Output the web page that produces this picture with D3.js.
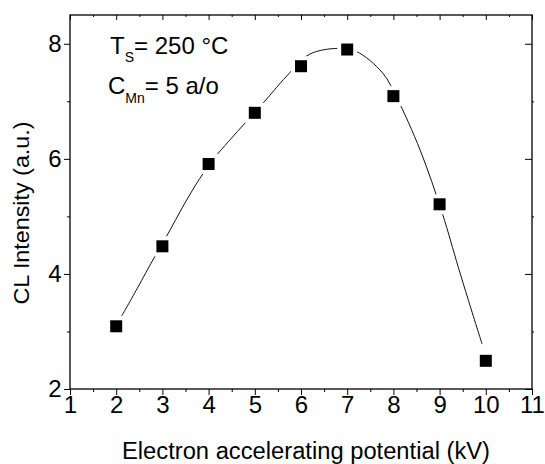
<!DOCTYPE html>
<html>
<head>
<meta charset="utf-8">
<script src="https://cdn.jsdelivr.net/npm/d3@7"></script>
<style>
  html, body { margin: 0; padding: 0; background: #fff; }
  svg { display: block; font-family: "Liberation Sans", Arial, Helvetica, sans-serif; }
</style>
</head>
<body>
<svg id="chart" width="545" height="464"></svg>
<script>
// Measured cathodoluminescence intensity vs. accelerating voltage
const voltages    = [2, 3, 4, 5, 6, 7, 8, 9, 10];
const intensities = [3.09, 4.48, 5.91, 6.80, 7.61, 7.90, 7.09, 5.21, 2.49];

// Smooth guide curve through the data
const fitVoltages    = [2.12, 2.45, 2.84, 3.13, 3.45, 3.81, 4.14, 4.43, 4.82, 5.18, 5.76, 6.19, 6.80, 7.19, 7.77, 8.08, 8.58, 9.06, 9.40, 9.62, 9.92];
const fitIntensities = [3.27, 3.74, 4.31, 4.71, 5.18, 5.66, 6.03, 6.30, 6.65, 6.97, 7.50, 7.82, 7.92, 7.87, 7.49, 7.05, 6.15, 5.05, 4.13, 3.55, 2.78];

// Axis ticks
const xMajor = [1, 2, 3, 4, 5, 6, 7, 8, 9, 10, 11];
const xMinor = [1.5, 2.5, 3.5, 4.5, 5.5, 6.5, 7.5, 8.5, 9.5, 10.5];
const yMajor = [2, 4, 6, 8];
const yMinor = [3, 5, 7];

const xTitle = "Electron accelerating potential (kV)";
const yTitle = "CL Intensity (a.u.)";

const svg = d3.select("#chart");
const L = 70, R = 532, T = 15, B = 389;

const x = d3.scaleLinear().domain([1, 11]).range([L, R]);
const y = d3.scaleLinear().domain([2, 8.5]).range([B, T]);

const fontSize = 24;

function styleAxis(g) {
  g.select(".domain").remove();
  g.selectAll("line").attr("stroke", "#000").attr("stroke-width", 1);
  g.selectAll("text").attr("fill", "#000").attr("font-size", fontSize)
    .attr("font-family", '"Liberation Sans", Arial, sans-serif');
}

// bottom axis (outward ticks, labelled)
svg.append("g").attr("transform", `translate(0,${B})`)
  .call(d3.axisBottom(x).tickValues(xMajor).tickSize(6).tickPadding(1).tickFormat(d3.format("d")))
  .call(styleAxis);
svg.append("g").attr("transform", `translate(0,${B})`)
  .call(d3.axisBottom(x).tickValues(xMinor).tickSize(3).tickFormat(""))
  .call(styleAxis);

// left axis (outward ticks, labelled)
svg.append("g").attr("transform", `translate(${L},0)`)
  .call(d3.axisLeft(y).tickValues(yMajor).tickSize(6).tickPadding(2.5).tickFormat(d3.format("d")))
  .call(styleAxis);
svg.append("g").attr("transform", `translate(${L},0)`)
  .call(d3.axisLeft(y).tickValues(yMinor).tickSize(3).tickFormat(""))
  .call(styleAxis);

// top axis (inward ticks)
svg.append("g").attr("transform", `translate(0,${T})`)
  .call(d3.axisTop(x).tickValues(xMajor).tickSize(-5).tickFormat(""))
  .call(styleAxis);
svg.append("g").attr("transform", `translate(0,${T})`)
  .call(d3.axisTop(x).tickValues(xMinor).tickSize(-2).tickFormat(""))
  .call(styleAxis);

// right axis (inward major ticks, short outward minor ticks)
svg.append("g").attr("transform", `translate(${R},0)`)
  .call(d3.axisRight(y).tickValues(yMajor).tickSize(-7).tickFormat(""))
  .call(styleAxis);
svg.append("g").attr("transform", `translate(${R},0)`)
  .call(d3.axisRight(y).tickValues(yMinor).tickSize(2).tickFormat(""))
  .call(styleAxis);

// frame
svg.append("rect")
  .attr("x", L).attr("y", T).attr("width", R - L).attr("height", B - T)
  .attr("fill", "none").attr("stroke", "#000").attr("stroke-width", 1.3);

// guide curve
const fit = fitVoltages.map((v, i) => [v, fitIntensities[i]]);
svg.append("path")
  .datum(fit)
  .attr("fill", "none")
  .attr("stroke", "#111")
  .attr("stroke-width", 1)
  .attr("d", d3.line().x(d => x(d[0])).y(d => y(d[1])).curve(d3.curveCatmullRom.alpha(0.5)));

// data markers with a small white clearance around them
const pts = voltages.map((v, i) => [v, intensities[i]]);
const ms = 12, gap = 4;
svg.append("g").selectAll("rect").data(pts).join("rect")
  .attr("x", d => x(d[0]) - ms / 2 - gap).attr("y", d => y(d[1]) - ms / 2 - gap)
  .attr("width", ms + 2 * gap).attr("height", ms + 2 * gap)
  .attr("fill", "#fff");
svg.append("g").selectAll("rect").data(pts).join("rect")
  .attr("x", d => x(d[0]) - ms / 2).attr("y", d => y(d[1]) - ms / 2)
  .attr("width", ms).attr("height", ms)
  .attr("fill", "#000");

// axis titles
svg.append("text")
  .attr("x", 306).attr("y", 459)
  .attr("text-anchor", "middle")
  .attr("font-size", 23)
  .attr("textLength", 368).attr("lengthAdjust", "spacingAndGlyphs")
  .text(xTitle);

svg.append("text")
  .attr("transform", "translate(29,213) rotate(-90)")
  .attr("text-anchor", "middle")
  .attr("font-size", 22)
  .attr("textLength", 183).attr("lengthAdjust", "spacingAndGlyphs")
  .text(yTitle);

// annotations
const note1 = svg.append("text").attr("x", 110).attr("y", 54).attr("font-size", 24);
note1.append("tspan").text("T");
note1.append("tspan").attr("font-size", 14).attr("dy", 8).text("S");
note1.append("tspan").attr("dy", -8).text("= 250 °C");

const note2 = svg.append("text").attr("x", 108).attr("y", 94).attr("font-size", 24);
note2.append("tspan").text("C");
note2.append("tspan").attr("font-size", 14).attr("dy", 9).text("Mn");
note2.append("tspan").attr("dy", -9).text("= 5 a/o");
</script>
</body>
</html>
